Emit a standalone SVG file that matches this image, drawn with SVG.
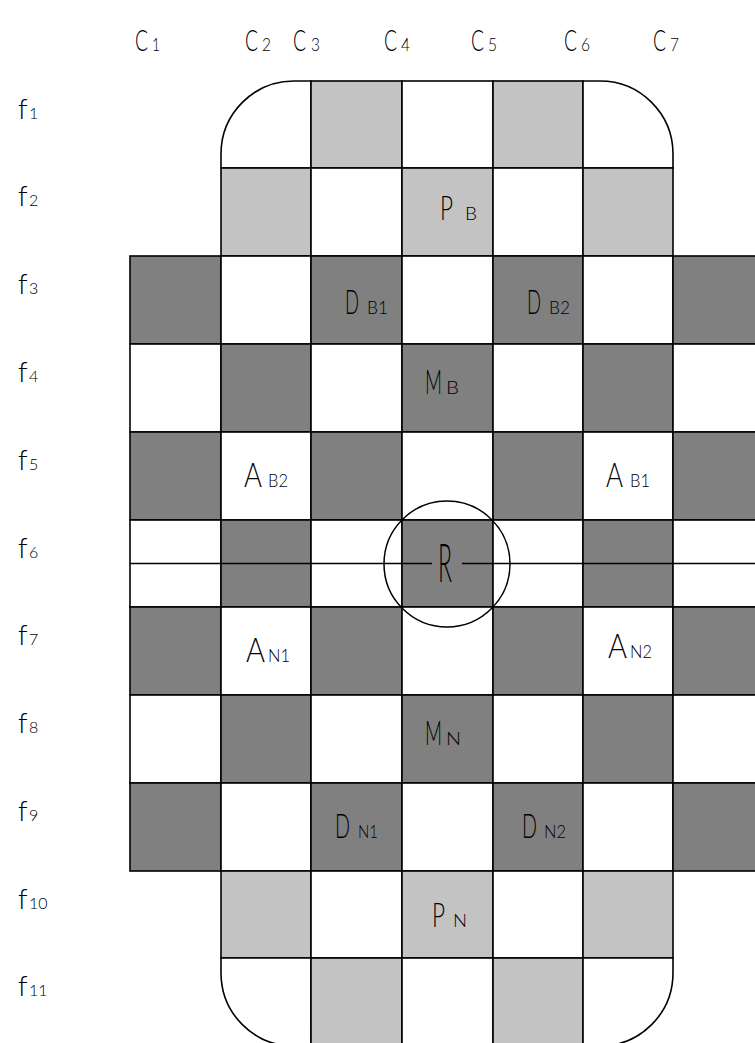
<svg xmlns="http://www.w3.org/2000/svg" width="755" height="1043" viewBox="0 0 755 1043">
<style>
.w{fill:#ffffff;stroke:#000;stroke-width:1.6}
.l{fill:#c3c3c3;stroke:#000;stroke-width:1.6}
.d{fill:#808080;stroke:#000;stroke-width:1.6}
.ln{fill:none;stroke:#000;stroke-width:1.5}
text{font-family:Lato,"Liberation Sans",Arial,sans-serif;font-weight:300;fill:#000}
.big{font-size:34px}
.sub{font-size:18px}
.cl{font-size:29px}
.cs{font-size:17px}
.fl{font-size:28px}
.fs{font-size:16px}
</style>
<rect width="755" height="1043" fill="#fff"/>
<g id="board">
<path class="w" d="M221 168 L221 154 A73 73 0 0 1 294 81 L311 81 L311 168 Z"/>
<rect class="l" x="311" y="81" width="91" height="87"/>
<rect class="w" x="402" y="81" width="91" height="87"/>
<rect class="l" x="493" y="81" width="90" height="87"/>
<path class="w" d="M583 81 L600 81 A73 73 0 0 1 673 154 L673 168 L583 168 Z"/>
<rect class="l" x="221" y="168" width="90" height="88"/>
<rect class="w" x="311" y="168" width="91" height="88"/>
<rect class="l" x="402" y="168" width="91" height="88"/>
<rect class="w" x="493" y="168" width="90" height="88"/>
<rect class="l" x="583" y="168" width="90" height="88"/>
<rect class="d" x="130" y="256" width="91" height="88"/>
<rect class="w" x="221" y="256" width="90" height="88"/>
<rect class="d" x="311" y="256" width="91" height="88"/>
<rect class="w" x="402" y="256" width="91" height="88"/>
<rect class="d" x="493" y="256" width="90" height="88"/>
<rect class="w" x="583" y="256" width="90" height="88"/>
<rect class="d" x="673" y="256" width="91" height="88"/>
<rect class="w" x="130" y="344" width="91" height="88"/>
<rect class="d" x="221" y="344" width="90" height="88"/>
<rect class="w" x="311" y="344" width="91" height="88"/>
<rect class="d" x="402" y="344" width="91" height="88"/>
<rect class="w" x="493" y="344" width="90" height="88"/>
<rect class="d" x="583" y="344" width="90" height="88"/>
<rect class="w" x="673" y="344" width="91" height="88"/>
<rect class="d" x="130" y="432" width="91" height="88"/>
<rect class="w" x="221" y="432" width="90" height="88"/>
<rect class="d" x="311" y="432" width="91" height="88"/>
<rect class="w" x="402" y="432" width="91" height="88"/>
<rect class="d" x="493" y="432" width="90" height="88"/>
<rect class="w" x="583" y="432" width="90" height="88"/>
<rect class="d" x="673" y="432" width="91" height="88"/>
<rect class="w" x="130" y="520" width="91" height="87"/>
<rect class="d" x="221" y="520" width="90" height="87"/>
<rect class="w" x="311" y="520" width="91" height="87"/>
<rect class="d" x="402" y="520" width="91" height="87"/>
<rect class="w" x="493" y="520" width="90" height="87"/>
<rect class="d" x="583" y="520" width="90" height="87"/>
<rect class="w" x="673" y="520" width="91" height="87"/>
<rect class="d" x="130" y="607" width="91" height="88"/>
<rect class="w" x="221" y="607" width="90" height="88"/>
<rect class="d" x="311" y="607" width="91" height="88"/>
<rect class="w" x="402" y="607" width="91" height="88"/>
<rect class="d" x="493" y="607" width="90" height="88"/>
<rect class="w" x="583" y="607" width="90" height="88"/>
<rect class="d" x="673" y="607" width="91" height="88"/>
<rect class="w" x="130" y="695" width="91" height="88"/>
<rect class="d" x="221" y="695" width="90" height="88"/>
<rect class="w" x="311" y="695" width="91" height="88"/>
<rect class="d" x="402" y="695" width="91" height="88"/>
<rect class="w" x="493" y="695" width="90" height="88"/>
<rect class="d" x="583" y="695" width="90" height="88"/>
<rect class="w" x="673" y="695" width="91" height="88"/>
<rect class="d" x="130" y="783" width="91" height="88"/>
<rect class="w" x="221" y="783" width="90" height="88"/>
<rect class="d" x="311" y="783" width="91" height="88"/>
<rect class="w" x="402" y="783" width="91" height="88"/>
<rect class="d" x="493" y="783" width="90" height="88"/>
<rect class="w" x="583" y="783" width="90" height="88"/>
<rect class="d" x="673" y="783" width="91" height="88"/>
<rect class="l" x="221" y="871" width="90" height="87"/>
<rect class="w" x="311" y="871" width="91" height="87"/>
<rect class="l" x="402" y="871" width="91" height="87"/>
<rect class="w" x="493" y="871" width="90" height="87"/>
<rect class="l" x="583" y="871" width="90" height="87"/>
<path class="w" d="M221 958 L311 958 L311 1046 L294 1046 A73 73 0 0 1 221 973 Z"/>
<rect class="l" x="311" y="958" width="91" height="88"/>
<rect class="w" x="402" y="958" width="91" height="88"/>
<rect class="l" x="493" y="958" width="90" height="88"/>
<path class="w" d="M583 958 L673 958 L673 973 A73 73 0 0 1 600 1046 L583 1046 Z"/>
</g>
<g id="connectors">
<line class="ln" x1="130" y1="563.5" x2="432" y2="563.5"/>
<line class="ln" x1="462" y1="563.5" x2="755" y2="563.5"/>
<circle class="ln" cx="447" cy="564" r="63"/>
</g>
<g id="col-labels">
<text y="51"><tspan class="cl" x="135" textLength="13" lengthAdjust="spacingAndGlyphs">C</tspan><tspan class="cs" x="152" textLength="8" lengthAdjust="spacingAndGlyphs">1</tspan></text>
<text y="51"><tspan class="cl" x="245" textLength="13" lengthAdjust="spacingAndGlyphs">C</tspan><tspan class="cs" x="262" textLength="9" lengthAdjust="spacingAndGlyphs">2</tspan></text>
<text y="51"><tspan class="cl" x="293" textLength="13" lengthAdjust="spacingAndGlyphs">C</tspan><tspan class="cs" x="311" textLength="9" lengthAdjust="spacingAndGlyphs">3</tspan></text>
<text y="51"><tspan class="cl" x="384" textLength="13" lengthAdjust="spacingAndGlyphs">C</tspan><tspan class="cs" x="401" textLength="9" lengthAdjust="spacingAndGlyphs">4</tspan></text>
<text y="51"><tspan class="cl" x="471" textLength="13" lengthAdjust="spacingAndGlyphs">C</tspan><tspan class="cs" x="488" textLength="9" lengthAdjust="spacingAndGlyphs">5</tspan></text>
<text y="51"><tspan class="cl" x="564" textLength="13" lengthAdjust="spacingAndGlyphs">C</tspan><tspan class="cs" x="581" textLength="9" lengthAdjust="spacingAndGlyphs">6</tspan></text>
<text y="51"><tspan class="cl" x="653" textLength="13" lengthAdjust="spacingAndGlyphs">C</tspan><tspan class="cs" x="670" textLength="9" lengthAdjust="spacingAndGlyphs">7</tspan></text>
</g>
<g id="row-labels">
<text x="18" y="119"><tspan class="fl">f</tspan><tspan class="fs" x="29">1</tspan></text>
<text x="18" y="206"><tspan class="fl">f</tspan><tspan class="fs" x="29">2</tspan></text>
<text x="18" y="294"><tspan class="fl">f</tspan><tspan class="fs" x="29">3</tspan></text>
<text x="18" y="382"><tspan class="fl">f</tspan><tspan class="fs" x="29">4</tspan></text>
<text x="18" y="470"><tspan class="fl">f</tspan><tspan class="fs" x="29">5</tspan></text>
<text x="18" y="558"><tspan class="fl">f</tspan><tspan class="fs" x="29">6</tspan></text>
<text x="18" y="645"><tspan class="fl">f</tspan><tspan class="fs" x="29">7</tspan></text>
<text x="18" y="733"><tspan class="fl">f</tspan><tspan class="fs" x="29">8</tspan></text>
<text x="18" y="821"><tspan class="fl">f</tspan><tspan class="fs" x="29">9</tspan></text>
<text x="18" y="909"><tspan class="fl">f</tspan><tspan class="fs" x="29">10</tspan></text>
<text x="18" y="996"><tspan class="fl">f</tspan><tspan class="fs" x="29">11</tspan></text>
</g>
<g id="PB"><text y="220"><tspan class="big" x="440" textLength="13" lengthAdjust="spacingAndGlyphs">P</tspan><tspan class="sub" x="465" textLength="12" lengthAdjust="spacingAndGlyphs">B</tspan></text></g>
<g id="DB1"><text y="314"><tspan class="big" x="345" textLength="14" lengthAdjust="spacingAndGlyphs">D</tspan><tspan class="sub" x="367" textLength="21" lengthAdjust="spacingAndGlyphs">B1</tspan></text></g>
<g id="DB2"><text y="314"><tspan class="big" x="527" textLength="14" lengthAdjust="spacingAndGlyphs">D</tspan><tspan class="sub" x="549" textLength="21" lengthAdjust="spacingAndGlyphs">B2</tspan></text></g>
<g id="MB"><text y="394"><tspan class="big" x="425" textLength="17" lengthAdjust="spacingAndGlyphs">M</tspan><tspan class="sub" x="446" textLength="13" lengthAdjust="spacingAndGlyphs">B</tspan></text></g>
<g id="AB2"><text y="487"><tspan class="big" x="244" textLength="18" lengthAdjust="spacingAndGlyphs">A</tspan><tspan class="sub" x="268" textLength="20" lengthAdjust="spacingAndGlyphs">B2</tspan></text></g>
<g id="AB1"><text y="487"><tspan class="big" x="606" textLength="17" lengthAdjust="spacingAndGlyphs">A</tspan><tspan class="sub" x="630" textLength="20" lengthAdjust="spacingAndGlyphs">B1</tspan></text></g>
<g id="R"><text x="438" y="582" font-size="54" textLength="14" lengthAdjust="spacingAndGlyphs">R</text></g>
<g id="AN1"><text y="662"><tspan class="big" x="246" textLength="19" lengthAdjust="spacingAndGlyphs">A</tspan><tspan class="sub" x="268" textLength="22" lengthAdjust="spacingAndGlyphs">N1</tspan></text></g>
<g id="AN2"><text y="658"><tspan class="big" x="608" textLength="19" lengthAdjust="spacingAndGlyphs">A</tspan><tspan class="sub" x="630" textLength="22" lengthAdjust="spacingAndGlyphs">N2</tspan></text></g>
<g id="MN"><text y="745"><tspan class="big" x="425" textLength="17" lengthAdjust="spacingAndGlyphs">M</tspan><tspan class="sub" x="446" textLength="15" lengthAdjust="spacingAndGlyphs">N</tspan></text></g>
<g id="DN1"><text y="838"><tspan class="big" x="335" textLength="15" lengthAdjust="spacingAndGlyphs">D</tspan><tspan class="sub" x="358" textLength="20" lengthAdjust="spacingAndGlyphs">N1</tspan></text></g>
<g id="DN2"><text y="838"><tspan class="big" x="522" textLength="15" lengthAdjust="spacingAndGlyphs">D</tspan><tspan class="sub" x="544" textLength="22" lengthAdjust="spacingAndGlyphs">N2</tspan></text></g>
<g id="PN"><text y="927"><tspan class="big" x="432" textLength="13" lengthAdjust="spacingAndGlyphs">P</tspan><tspan class="sub" x="453" textLength="14" lengthAdjust="spacingAndGlyphs">N</tspan></text></g>
</svg>
